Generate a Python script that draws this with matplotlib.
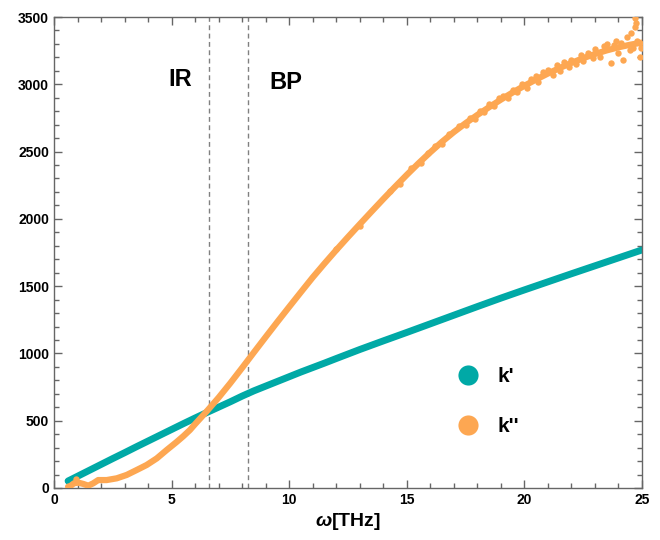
import matplotlib
matplotlib.use('Agg')
import matplotlib.pyplot as plt
from matplotlib.lines import Line2D
from matplotlib.ticker import MultipleLocator

plt.rcParams['font.family'] = ['Liberation Sans', 'DejaVu Sans']
plt.rcParams['font.weight'] = 'bold'
plt.rcParams['mathtext.fontset'] = 'custom'
plt.rcParams['mathtext.it'] = 'Liberation Sans:italic:bold'
plt.rcParams['mathtext.rm'] = 'Liberation Sans:bold'

teal = '#00A9A6'
orange = '#FDA752'

omega_k1 = [0.6, 1, 1.5, 2, 2.5, 3, 3.5, 4, 4.5, 5, 5.5, 6, 6.5, 7, 7.5, 8, 8.5,
            9, 9.5, 10, 10.5, 11, 11.5, 12, 13, 14, 15, 16, 17, 18, 19, 20, 21,
            22, 23, 24, 25]
k1 = [52, 87, 131, 175, 219, 262, 306, 349, 392, 435, 478, 520, 561, 601, 641,
      683, 722, 757, 792, 827, 862, 895, 928, 962, 1029, 1093, 1156, 1220, 1284,
      1348, 1411, 1472, 1532, 1592, 1651, 1710, 1769]

# k'' (imaginary part), smooth core
omega_k2 = [0.6, 0.7, 0.85, 1.03, 1.25, 1.46, 1.67, 1.88, 2.24, 2.67, 3.09, 3.52,
            3.94, 4.37, 4.79, 5.2, 5.5, 5.78, 6.0, 6.5, 7, 7.5, 8, 8.5, 9, 9.5,
            10, 10.5, 11, 11.5, 12, 12.5, 13, 13.5, 14, 14.5, 15, 15.5, 16, 16.5,
            17, 17.5, 18, 18.5, 19, 19.5, 20, 20.5, 21, 21.5, 22, 22.5, 23, 23.5,
            24, 24.5, 25]
k2 = [10, 15, 35, 40, 30, 17, 35, 59, 59, 72, 97, 134, 171, 220, 282, 340, 385,
      431, 475, 571, 672, 780, 893, 1008, 1122, 1235, 1346, 1456, 1565, 1668,
      1768, 1865, 1960, 2054, 2147, 2238, 2327, 2413, 2495, 2573, 2645, 2711,
      2772, 2830, 2886, 2939, 2989, 3036, 3080, 3121, 3159, 3194, 3225, 3252,
      3275, 3294, 3310]

# k'' scattered points (noisy part)
omega_k2_pts = [0.92, 12.0, 13.0, 14.3, 14.7, 15.2, 15.6, 15.9, 16.2, 16.5, 16.8,
                17.2, 17.5, 17.7, 17.9, 18.1, 18.3, 18.5, 18.7, 18.9, 19.1, 19.3,
                19.5, 19.7, 19.9, 20.1, 20.3, 20.5, 20.6, 20.8, 21.0, 21.2, 21.4,
                21.5, 21.7, 21.9, 22.0, 22.2, 22.4, 22.5, 22.7, 22.9, 23.0, 23.2,
                23.4, 23.5, 23.7, 23.8, 23.9, 24.0, 24.1, 24.2, 24.35, 24.5,
                24.55, 24.6, 24.7, 24.75, 24.8, 24.9, 24.9, 24.95, 24.7]
k2_pts = [67, 1778, 1948, 2210, 2262, 2375, 2418, 2490, 2540, 2560, 2630, 2690,
          2700, 2752, 2745, 2800, 2795, 2850, 2835, 2895, 2915, 2900, 2960, 2945,
          3005, 2975, 3040, 3060, 3015, 3090, 3105, 3070, 3140, 3100, 3165, 3125,
          3180, 3150, 3215, 3170, 3235, 3195, 3260, 3205, 3285, 3300, 3156, 3290,
          3324, 3230, 3304, 3180, 3354, 3255, 3380, 3270, 3428, 3453, 3320, 3305,
          3205, 3267, 3490]

ir_line = 6.58
bp_line = 8.25

fig = plt.figure(figsize=(6.6, 5.4), dpi=100)
ax = fig.add_axes([0.0818, 0.0963, 0.8909, 0.8722])

ax.axvline(ir_line, color='#808080', lw=1, ls=(0, (3.5, 2.5)), zorder=1)
ax.axvline(bp_line, color='#808080', lw=1, ls=(0, (3.5, 2.5)), zorder=1)

ax.plot(omega_k1, k1, color=teal, lw=5, solid_capstyle='round', zorder=2)
ax.plot(omega_k2, k2, color=orange, lw=4.5, solid_capstyle='round',
        solid_joinstyle='round', zorder=3)
ax.plot(omega_k2_pts, k2_pts, 'o', color=orange, ms=4.6, mew=0, zorder=3)

ax.text(5.36, 3032, 'IR', fontsize=17, fontweight='bold', ha='center', va='center')
ax.text(9.86, 3017, 'BP', fontsize=17, fontweight='bold', ha='center', va='center')

ax.set_xlim(0, 25)
ax.set_ylim(0, 3500)
ax.xaxis.set_major_locator(MultipleLocator(5))
ax.xaxis.set_minor_locator(MultipleLocator(1))
ax.yaxis.set_major_locator(MultipleLocator(500))
ax.yaxis.set_minor_locator(MultipleLocator(100))
ax.tick_params(which='both', direction='in', top=True, right=True,
               color='#666666', labelsize=10, width=1)
ax.tick_params(which='major', length=6)
ax.tick_params(which='minor', length=3.5)
for lab in ax.get_xticklabels() + ax.get_yticklabels():
    lab.set_fontweight('bold')
for s in ax.spines.values():
    s.set_color('#666666')
    s.set_linewidth(1)

ax.set_xlabel('$\\omega$[THz]', fontsize=14, fontweight='bold', labelpad=3)

handles = [Line2D([], [], ls='', marker='o', ms=14.5, color=teal, mew=0),
           Line2D([], [], ls='', marker='o', ms=14.5, color=orange, mew=0)]
ax.legend(handles, ["k'", "k''"], loc='center left', bbox_to_anchor=(0.655, 0.183),
          frameon=False, handlelength=1, handletextpad=0.9,
          labelspacing=1.5, prop={'weight': 'bold', 'size': 15})

fig.savefig('out.png', dpi=100)
